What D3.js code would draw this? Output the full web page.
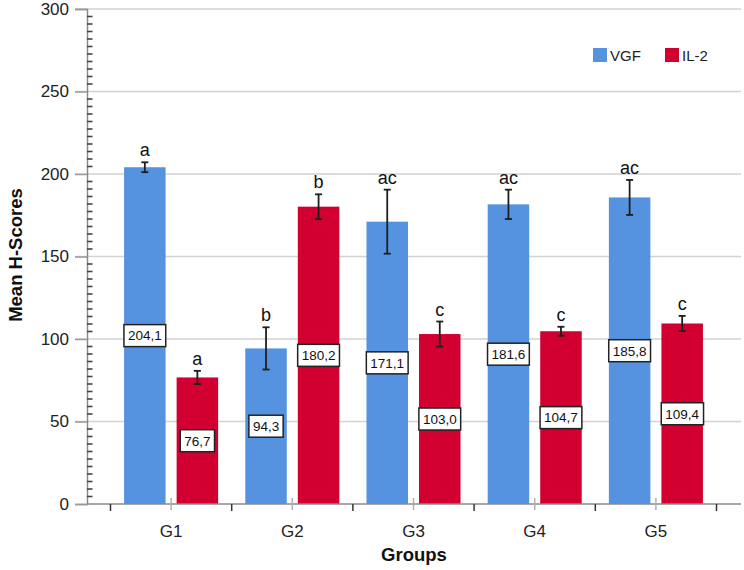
<!DOCTYPE html>
<html>
<head>
<meta charset="utf-8">
<script src="https://cdn.jsdelivr.net/npm/d3@7"></script>
<style>
  html, body { margin: 0; padding: 0; background: #fff; }
  svg { display: block; font-family: "Liberation Sans", Arial, sans-serif; }
</style>
</head>
<body>
<svg id="chart" width="744" height="570"></svg>
<script>
// ---- data ----
const groups = ["G1", "G2", "G3", "G4", "G5"];
const series = ["VGF", "IL-2"];
const vgfMeans = [204.1, 94.3, 171.1, 181.6, 185.8];
const il2Means = [76.7, 180.2, 103.0, 104.7, 109.4];
const vgfErr = [3.0, 12.8, 19.4, 8.9, 10.6];
const il2Err = [4.0, 7.5, 7.6, 2.7, 4.6];
const vgfLetters = ["a", "b", "ac", "ac", "ac"];
const il2Letters = ["a", "b", "c", "c", "c"];
const yTicks = [0, 50, 100, 150, 200, 250, 300];
const colors = { "VGF": "#5593e0", "IL-2": "#d20030" };

const rows = [];
groups.forEach((g, i) => {
  rows.push({ group: g, series: "VGF", value: vgfMeans[i], err: vgfErr[i], letter: vgfLetters[i] });
  rows.push({ group: g, series: "IL-2", value: il2Means[i], err: il2Err[i], letter: il2Letters[i] });
});

const svg = d3.select("#chart");
const plotLeft = 87, plotRight = 741, plotTop = 9, plotBottom = 504;

const y = d3.scaleLinear().domain([0, 300]).range([plotBottom, plotTop]);
const x0 = d3.scaleBand().domain(groups).range([110.5, 716.5]).paddingInner(0).paddingOuter(0);
const bw = x0.bandwidth();
const x1 = d3.scaleBand().domain(series).range([bw * 0.112, bw * 0.888]).paddingInner(0.21);

// gridlines (major)
svg.append("g").selectAll("line").data(yTicks.filter(d => d > 0)).join("line")
  .attr("x1", 75).attr("x2", plotRight)
  .attr("y1", d => y(d)).attr("y2", d => y(d))
  .attr("stroke", "#d2d2d2").attr("stroke-width", 1.5);

// bars
const gBars = svg.append("g");
gBars.selectAll("rect").data(rows).join("rect")
  .attr("x", d => x0(d.group) + x1(d.series))
  .attr("width", x1.bandwidth())
  .attr("y", d => y(d.value))
  .attr("height", d => y(0) - y(d.value))
  .attr("fill", d => colors[d.series]);

// y axis (left) with major ticks and labels
const yAxis = d3.axisLeft(y).tickValues(yTicks).tickSize(12).tickPadding(6).tickFormat(d3.format("d"));
const gy = svg.append("g").attr("transform", `translate(${plotLeft},0)`).call(yAxis);
gy.select(".domain").attr("stroke", "#8a8a8a").attr("stroke-width", 1.5);
gy.selectAll(".tick line").attr("stroke", "#9a9a9a").attr("stroke-width", 1.5);
gy.selectAll(".tick text").attr("font-size", 17).attr("fill", "#222").attr("font-family", "Liberation Sans, Arial, sans-serif");

// minor ticks: 10 between each major
const minor = [];
for (let k = 0; k < yTicks.length - 1; k++) {
  for (let j = 1; j <= 10; j++) minor.push(yTicks[k] + j * (yTicks[k + 1] - yTicks[k]) / 11);
}
svg.append("g").selectAll("line").data(minor).join("line")
  .attr("x1", plotLeft).attr("x2", plotLeft + 5.5)
  .attr("y1", d => y(d)).attr("y2", d => y(d))
  .attr("stroke", "#444").attr("stroke-width", 1.6);

// x axis
svg.append("line").attr("x1", plotLeft).attr("x2", plotRight)
  .attr("y1", y(0)).attr("y2", y(0)).attr("stroke", "#8a8a8a").attr("stroke-width", 1.5);
const bounds = groups.map(g => x0(g)).concat([x0(groups[groups.length - 1]) + bw]);
svg.append("g").selectAll("line").data(bounds).join("line")
  .attr("x1", d => d).attr("x2", d => d)
  .attr("y1", y(0)).attr("y2", y(0) + 7)
  .attr("stroke", "#333").attr("stroke-width", 1.5);
svg.append("g").selectAll("line").data(groups).join("line")
  .attr("x1", d => x0(d) + bw / 2).attr("x2", d => x0(d) + bw / 2)
  .attr("y1", y(0) - 6).attr("y2", y(0) + 6)
  .attr("stroke", "#b0b0b0").attr("stroke-width", 1.5);
svg.append("g").selectAll("text").data(groups).join("text")
  .attr("x", d => x0(d) + bw / 2).attr("y", 537)
  .attr("text-anchor", "middle").attr("font-size", 17).attr("fill", "#222")
  .text(d => d);

// axis titles
svg.append("text").attr("x", (plotLeft + plotRight) / 2).attr("y", 561)
  .attr("text-anchor", "middle").attr("font-size", 18.5).attr("font-weight", "bold").attr("fill", "#111")
  .text("Groups");
svg.append("text").attr("transform", `translate(22,255) rotate(-90)`)
  .attr("text-anchor", "middle").attr("font-size", 18.5).attr("font-weight", "bold").attr("fill", "#111")
  .text("Mean H-Scores");

// error bars
const gErr = svg.append("g").attr("stroke", "#1e1e1e").attr("stroke-width", 1.8);
const cx = d => x0(d.group) + x1(d.series) + x1.bandwidth() / 2;
gErr.selectAll("line.v").data(rows).join("line").attr("class", "v")
  .attr("x1", cx).attr("x2", cx)
  .attr("y1", d => y(d.value + d.err)).attr("y2", d => y(d.value - d.err));
gErr.selectAll("line.t").data(rows).join("line").attr("class", "t")
  .attr("x1", d => cx(d) - 3.5).attr("x2", d => cx(d) + 3.5)
  .attr("y1", d => y(d.value + d.err)).attr("y2", d => y(d.value + d.err));
gErr.selectAll("line.b").data(rows).join("line").attr("class", "b")
  .attr("x1", d => cx(d) - 3.5).attr("x2", d => cx(d) + 3.5)
  .attr("y1", d => y(d.value - d.err)).attr("y2", d => y(d.value - d.err));

// significance letters
svg.append("g").selectAll("text").data(rows).join("text")
  .attr("x", cx).attr("y", d => y(d.value + d.err) - 6)
  .attr("text-anchor", "middle").attr("font-size", 18).attr("fill", "#111")
  .text(d => d.letter);

// value labels
const fmt = v => v.toFixed(1).replace(".", ",");
const gLab = svg.append("g").selectAll("g").data(rows).join("g")
  .attr("transform", d => `translate(${cx(d)},${y(d.value / 2)})`);
gLab.append("text").attr("text-anchor", "middle").attr("dy", "0.36em")
  .attr("font-size", 13.5).attr("fill", "#111").text(d => fmt(d.value));
gLab.each(function () {
  const g = d3.select(this);
  const bb = g.select("text").node().getBBox();
  g.insert("rect", "text")
    .attr("x", bb.x - 4).attr("y", -11).attr("width", bb.width + 8).attr("height", 22)
    .attr("fill", "#fff").attr("stroke", "#222").attr("stroke-width", 1.5);
});

// legend
const leg = svg.append("g").selectAll("g").data(series).join("g")
  .attr("transform", (d, i) => `translate(${593 + i * 72},48)`);
leg.append("rect").attr("width", 14).attr("height", 14).attr("fill", d => colors[d]);
leg.append("text").attr("x", 17).attr("y", 12.5).attr("font-size", 15).attr("fill", "#222").text(d => d);
</script>
</body>
</html>
